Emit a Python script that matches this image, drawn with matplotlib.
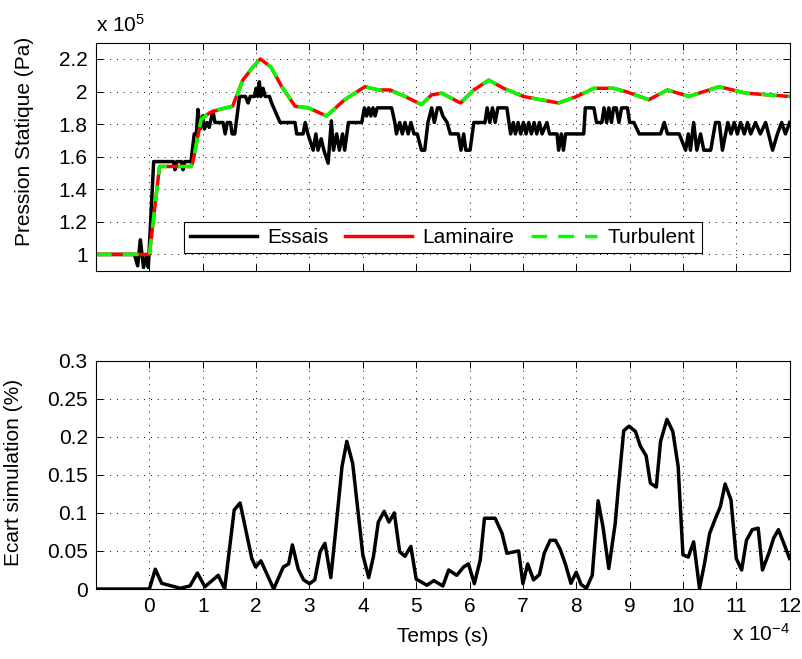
import matplotlib
matplotlib.use("Agg")
import matplotlib.pyplot as plt

plt.rcParams['font.family'] = ['Liberation Sans', 'DejaVu Sans']
plt.rcParams['mathtext.fontset'] = 'custom'
plt.rcParams['mathtext.rm'] = 'Liberation Sans'
plt.rcParams['mathtext.it'] = 'Liberation Sans'

FS = 15

# ---- data (time in 1e-4 s, pressure in 1e5 Pa) ----
t_essais = [-1.0, -0.28, -0.22, -0.17, -0.11, -0.05, -0.02, 0.08, 0.45, 0.48, 0.51, 0.60, 0.63, 0.66,
            0.78, 0.84, 0.88, 0.91, 0.95, 1.00, 1.03, 1.08, 1.12, 1.19, 1.23, 1.38, 1.42, 1.46, 1.52,
            1.55, 1.60, 1.69, 1.80, 1.85, 1.89, 1.97, 2.00, 2.03, 2.06, 2.09, 2.13, 2.17, 2.25, 2.29,
            2.33, 2.45, 2.73, 2.76, 2.88, 2.92, 2.97, 3.07, 3.12, 3.16, 3.22, 3.27, 3.35, 3.41, 3.45,
            3.51, 3.56, 3.62, 3.66, 3.73, 3.98, 4.03, 4.07, 4.11, 4.15, 4.19, 4.23, 4.27, 4.54, 4.60,
            4.63, 4.69, 4.74, 4.79, 4.85, 4.90, 4.96, 5.02, 5.10, 5.16, 5.22, 5.29, 5.34, 5.40, 5.45,
            5.50, 5.58, 5.64, 5.79, 5.84, 5.89, 5.93, 6.01, 6.08, 6.29, 6.33, 6.38, 6.43, 6.48, 6.53,
            6.70, 6.74, 6.77, 6.82, 6.86, 6.91, 6.96, 7.01, 7.06, 7.11, 7.16, 7.21, 7.26, 7.31, 7.36,
            7.45, 7.50, 7.64, 7.67, 7.72, 7.76, 7.80, 8.14, 8.17, 8.33, 8.38, 8.48, 8.52, 8.57, 8.61,
            8.66, 8.70, 8.75, 8.80, 8.85, 8.96, 9.00, 9.08, 9.18, 9.58, 9.65, 9.71, 9.93, 10.05, 10.10,
            10.14, 10.20, 10.26, 10.33, 10.39, 10.52, 10.61, 10.68, 10.74, 10.84, 10.90, 10.96, 11.02,
            11.08, 11.15, 11.21, 11.27, 11.36, 11.45, 11.55, 11.68, 11.77, 11.85, 11.92, 12.0]
p_essais = [1.0, 1.0, 0.93, 1.09, 0.92, 1.0, 0.92, 1.57, 1.57, 1.52, 1.57, 1.57, 1.52, 1.57,
            1.57, 1.74, 1.74, 1.89, 1.77, 1.85, 1.77, 1.81, 1.78, 1.88, 1.81, 1.81, 1.74, 1.81, 1.81,
            1.74, 1.74, 1.97, 1.97, 1.93, 1.97, 1.97, 2.02, 1.97, 2.06, 1.97, 2.02, 1.97, 1.97, 1.93,
            1.90, 1.81, 1.81, 1.74, 1.74, 1.81, 1.74, 1.64, 1.74, 1.64, 1.71, 1.64, 1.56, 1.82, 1.64,
            1.74, 1.64, 1.74, 1.64, 1.81, 1.81, 1.90, 1.85, 1.90, 1.85, 1.90, 1.85, 1.90, 1.90, 1.81,
            1.74, 1.81, 1.74, 1.81, 1.74, 1.81, 1.74, 1.74, 1.64, 1.64, 1.81, 1.90, 1.81, 1.90, 1.90,
            1.85, 1.81, 1.74, 1.74, 1.64, 1.74, 1.64, 1.64, 1.81, 1.81, 1.90, 1.81, 1.90, 1.81, 1.90,
            1.90, 1.81, 1.74, 1.81, 1.74, 1.81, 1.74, 1.81, 1.74, 1.81, 1.74, 1.81, 1.74, 1.81, 1.74,
            1.81, 1.74, 1.74, 1.64, 1.74, 1.64, 1.74, 1.74, 1.90, 1.90, 1.81, 1.81, 1.90, 1.81, 1.90,
            1.81, 1.90, 1.90, 1.81, 1.90, 1.90, 1.81, 1.81, 1.74, 1.74, 1.81, 1.74, 1.74, 1.64, 1.74,
            1.64, 1.81, 1.64, 1.74, 1.64, 1.64, 1.81, 1.81, 1.64, 1.81, 1.74, 1.81, 1.74,
            1.81, 1.74, 1.81, 1.74, 1.81, 1.74, 1.81, 1.64, 1.74, 1.81, 1.74, 1.81]

t_sim = [-1.0, 0.0, 0.19, 0.78, 0.81, 0.97, 1.13, 1.31, 1.56, 1.75, 1.94, 2.08, 2.28, 2.48, 2.73,
         2.98, 3.32, 3.66, 4.04, 4.29, 4.51, 4.79, 5.10, 5.29, 5.48, 5.83, 6.08, 6.36, 6.64, 7.01,
         7.33, 7.67, 8.01, 8.33, 8.70, 8.93, 9.36, 9.71, 10.11, 10.68, 11.18, 12.0]
p_laminaire = [1.0, 1.0, 1.54, 1.54, 1.56, 1.83, 1.87, 1.89, 1.91, 2.07, 2.15, 2.20, 2.15, 2.03, 1.91,
               1.90, 1.85, 1.95, 2.03, 2.01, 2.01, 1.97, 1.92, 1.98, 1.99, 1.93, 2.01, 2.07, 2.02, 1.97,
               1.95, 1.93, 1.97, 2.02, 2.02, 2.00, 1.95, 2.01, 1.97, 2.03, 1.99, 1.97]
p_turbulent = list(p_laminaire)

t_ecart = [-1.0, 0.0, 0.11, 0.23, 0.58, 0.76, 0.90, 1.04, 1.29, 1.41, 1.59, 1.70, 1.92, 1.99, 2.09,
           2.33, 2.51, 2.61, 2.68, 2.79, 2.89, 3.00, 3.10, 3.20, 3.29, 3.40, 3.48, 3.61, 3.70, 3.81,
           4.00, 4.11, 4.20, 4.29, 4.40, 4.49, 4.59, 4.69, 4.79, 4.90, 5.00, 5.20, 5.33, 5.50, 5.61,
           5.76, 5.89, 5.98, 6.09, 6.20, 6.28, 6.48, 6.61, 6.70, 6.92, 7.00, 7.09, 7.20, 7.31, 7.40,
           7.51, 7.61, 7.70, 7.80, 7.90, 8.00, 8.09, 8.19, 8.30, 8.41, 8.50, 8.61, 8.73, 8.79, 8.89,
           8.99, 9.11, 9.20, 9.31, 9.39, 9.50, 9.58, 9.70, 9.81, 9.91, 10.00, 10.10, 10.20, 10.31,
           10.40, 10.50, 10.61, 10.70, 10.79, 10.90, 11.00, 11.10, 11.19, 11.30, 11.41, 11.49, 11.61,
           11.70, 11.79, 12.0]
ecart = [0.0, 0.0, 0.026, 0.0075, 0.001, 0.004, 0.021, 0.003, 0.018, 0.0, 0.104, 0.113, 0.040, 0.029, 0.037,
         0.0, 0.029, 0.033, 0.058, 0.026, 0.012, 0.007, 0.012, 0.049, 0.060, 0.015, 0.069, 0.161, 0.194, 0.165,
         0.045, 0.015, 0.043, 0.088, 0.102, 0.088, 0.100, 0.049, 0.043, 0.056, 0.013, 0.005, 0.011, 0.004, 0.025,
         0.018, 0.029, 0.033, 0.007, 0.038, 0.093, 0.093, 0.073, 0.047, 0.050, 0.007, 0.033, 0.012, 0.019, 0.047,
         0.064, 0.064, 0.052, 0.032, 0.0075, 0.022, 0.006, 0.001, 0.018, 0.116, 0.082, 0.027, 0.086, 0.134, 0.208,
         0.214, 0.207, 0.188, 0.175, 0.139, 0.134, 0.194, 0.223, 0.207, 0.161, 0.045, 0.042, 0.062, 0.001,
         0.032, 0.073, 0.093, 0.108, 0.138, 0.117, 0.040, 0.025, 0.064, 0.078, 0.080, 0.025, 0.047,
         0.067, 0.078, 0.040]

x_ticks = list(range(0, 13))
top_yticks = [1.0, 1.2, 1.4, 1.6, 1.8, 2.0, 2.2]
top_ylabels = ['1', '1.2', '1.4', '1.6', '1.8', '2', '2.2']
bot_yticks = [0, 0.05, 0.1, 0.15, 0.2, 0.25, 0.3]
bot_ylabels = ['0', '0.05', '0.1', '0.15', '0.2', '0.25', '0.3']

fig = plt.figure(figsize=(8.03, 6.59), dpi=100)
ax1 = fig.add_axes([0.1196, 0.5892, 0.8638, 0.346])
ax2 = fig.add_axes([0.1196, 0.1062, 0.8638, 0.3464])

LW = 2.5
ax1.plot(t_essais, p_essais, color='black', lw=LW, label='Essais')
ax1.plot(t_sim, p_laminaire, color='#ff0000', lw=LW, label='Laminaire')
ax1.plot(t_sim, p_turbulent, color='#00ff00', lw=LW, ls=(0, (4.5, 3.2)), label='Turbulent')
ax2.plot(t_ecart, ecart, color='black', lw=LW)

grid_kw = dict(color='black', lw=0.7, ls=(0, (1, 6)))
for ax in (ax1, ax2):
    ax.set_xlim(-1, 12)
    ax.set_xticks(x_ticks)
    ax.grid(True, **grid_kw)
    ax.tick_params(direction='in', top=True, right=True, length=5, width=0.7,
                   labelsize=FS, pad=6)
    for s in ax.spines.values():
        s.set_linewidth(0.8)

ax1.set_ylim(0.9, 2.3)
ax1.set_yticks(top_yticks)
ax1.set_yticklabels(top_ylabels)
ax1.tick_params(labelbottom=False)
ax1.set_ylabel('Pression Statique (Pa)', fontsize=FS)
ax1.yaxis.set_label_coords(-0.09, 0.566)
ax1.text(0.0, 1.03, r'x 10$^{5}$', transform=ax1.transAxes, ha='left', va='bottom', fontsize=FS)

leg = ax1.legend(loc='lower center', bbox_to_anchor=(0.5, 0.03), ncol=3, fontsize=FS,
                 frameon=True, fancybox=False, framealpha=1, edgecolor='black',
                 handlelength=3.2, columnspacing=0.8, handletextpad=0.5, borderpad=0.3)
leg.get_frame().set_linewidth(0.8)

ax2.set_ylim(0, 0.3)
ax2.set_yticks(bot_yticks)
ax2.set_yticklabels(bot_ylabels)
ax2.set_xticklabels([str(v) for v in x_ticks])
ax2.set_ylabel('Ecart simulation (%)', fontsize=FS)
ax2.yaxis.set_label_coords(-0.106, 0.51)
ax2.set_xlabel('Temps (s)', fontsize=FS)
ax2.xaxis.set_label_coords(0.5, -0.165)
ax2.text(1.0, -0.15, r'x 10$^{-4}$', transform=ax2.transAxes, ha='right', va='top', fontsize=FS)

fig.savefig('out.png', dpi=100)
